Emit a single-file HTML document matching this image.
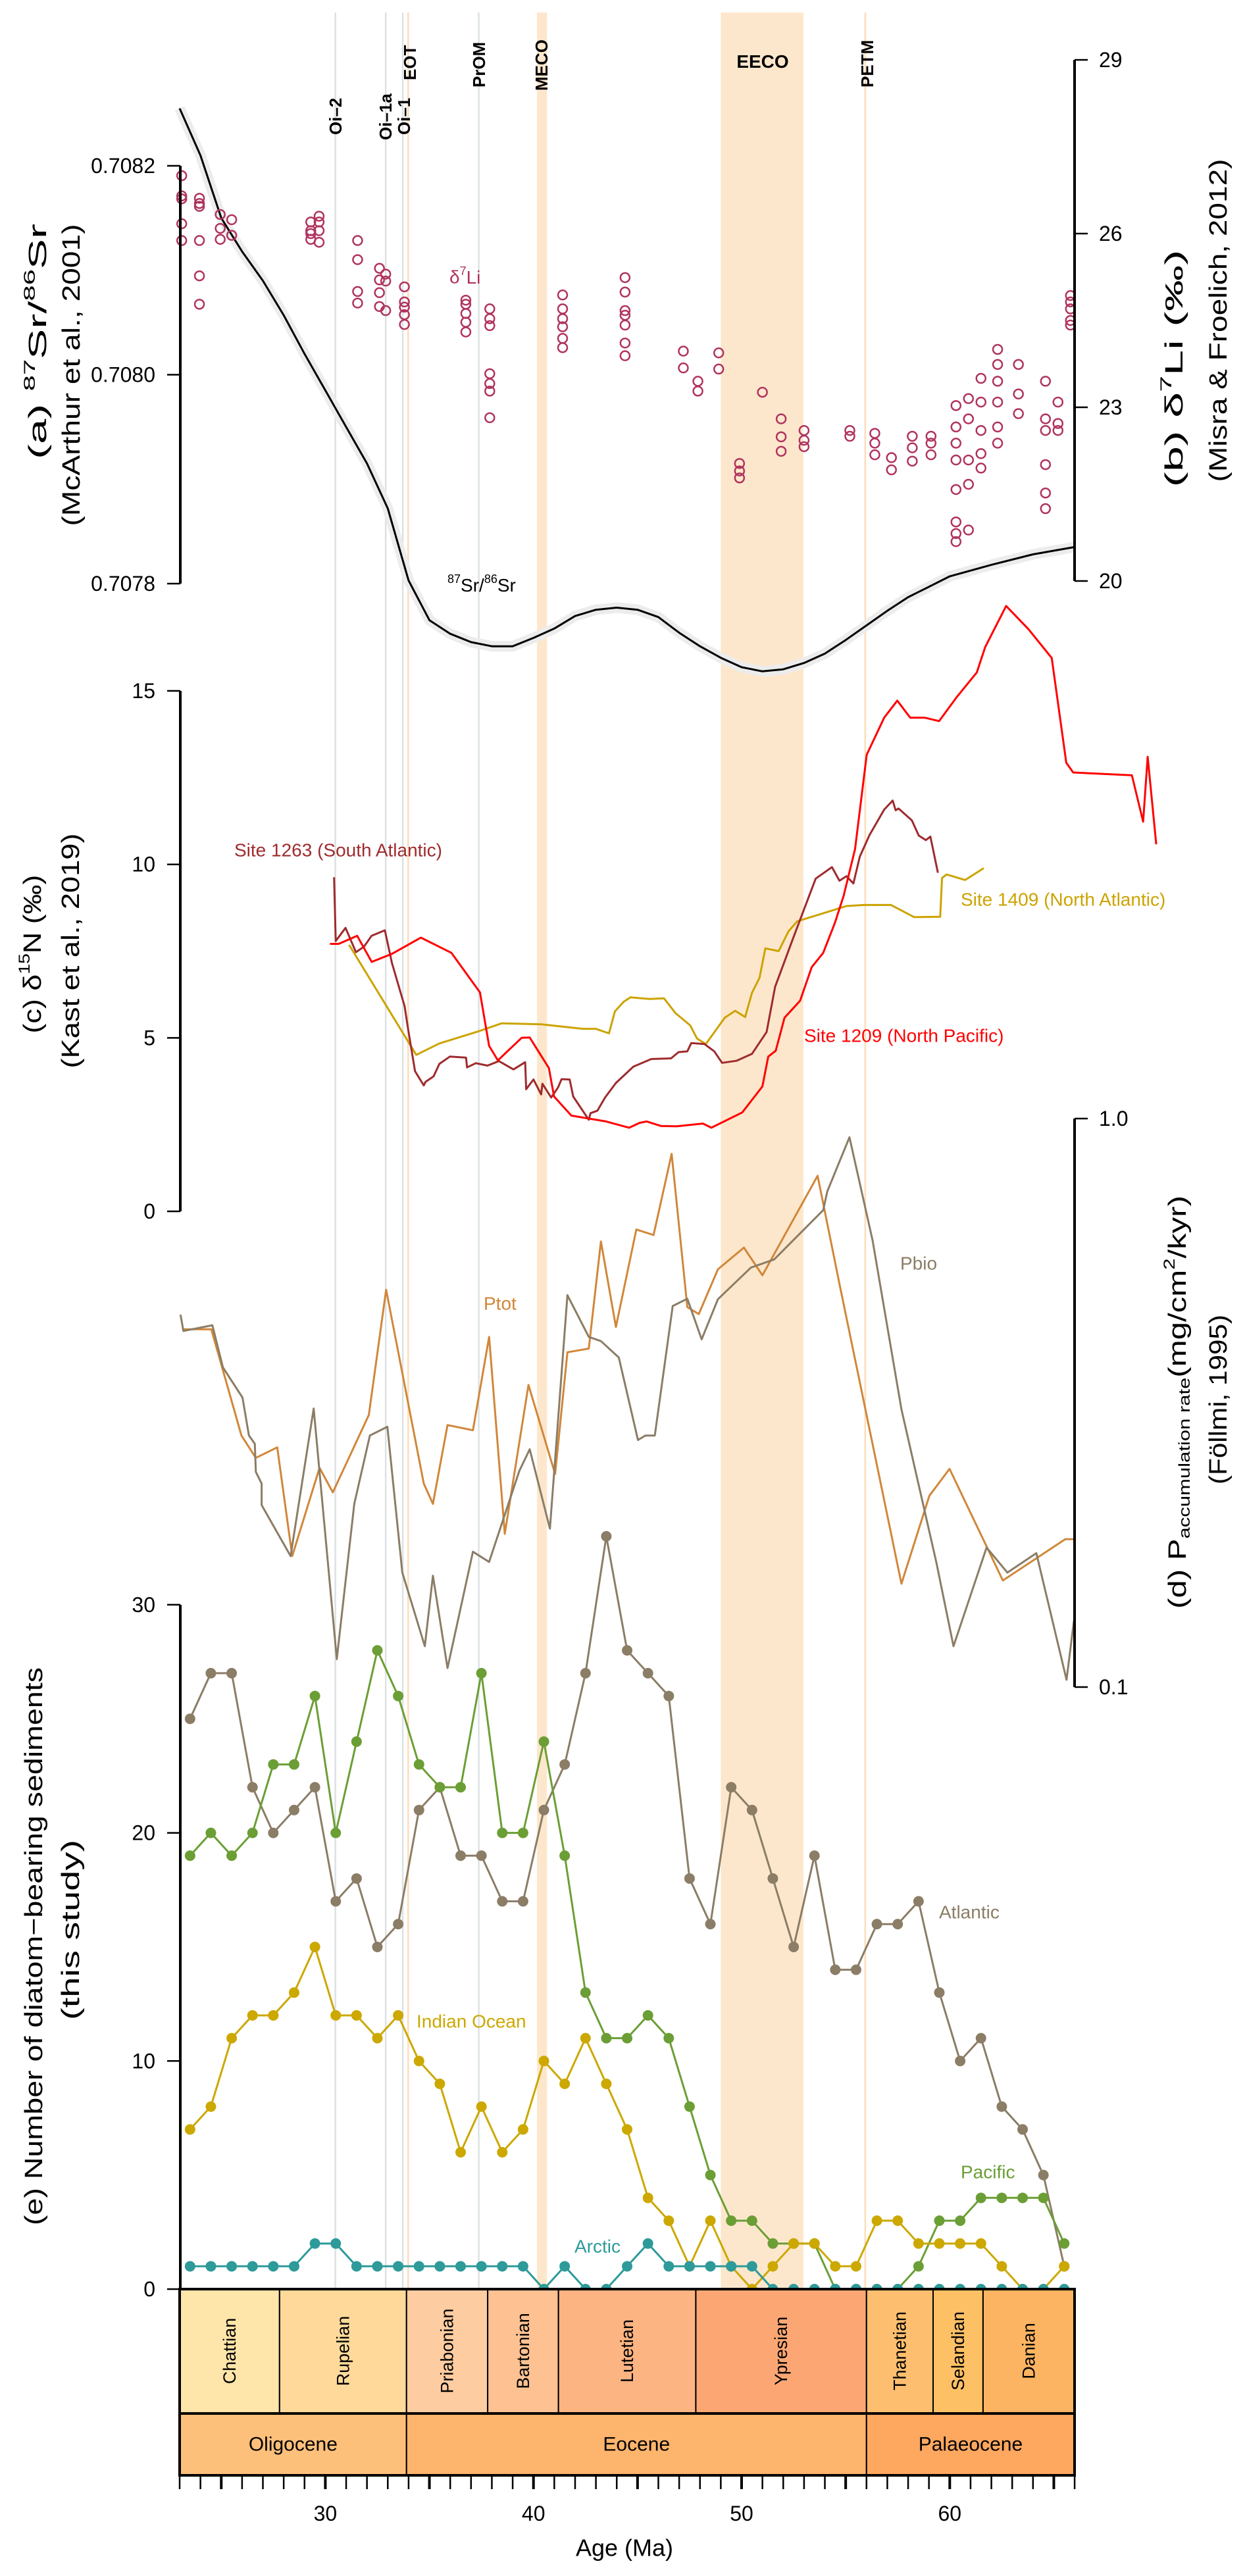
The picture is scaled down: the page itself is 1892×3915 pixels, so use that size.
<!DOCTYPE html>
<html><head><meta charset="utf-8"><style>
html,body{margin:0;padding:0;background:#fff;}
svg{display:block;font-family:"Liberation Sans",sans-serif;}
</style></head><body>
<svg id="chart" width="1892" height="3915" viewBox="0 0 1892 3915" xmlns="http://www.w3.org/2000/svg">
<g id="bands"></g>
<g id="events"></g>
<g id="data"></g>
<g id="axes"></g>
</svg>
<script>
const NS="http://www.w3.org/2000/svg";
// ---------- data ----------
const srAge=[23,24,25,26,27,28,29,30,31,32,33,34,35,36,37,38,39,40,41,42,43,44,45,46,47,48,49,50,51,52,53,54,55,56,57,58,59,60,62,64,66];
const srVal=[0.708255,0.70821,0.70815,0.708118,0.70809,0.708057,0.70802,0.707985,0.70795,0.707915,0.707872,0.707803,0.707765,0.707752,0.707744,0.70774,0.70774,0.707748,0.707757,0.707769,0.707775,0.707777,0.707775,0.707768,0.707753,0.70774,0.707729,0.70772,0.707716,0.707718,0.707724,0.707733,0.707746,0.70776,0.707774,0.707787,0.707797,0.707807,0.707818,0.707828,0.707835];
const liAge=[23.1,23.1,23.1,23.1,23.1,23.95,23.95,23.95,23.95,23.95,23.95,24.95,24.95,24.95,25.5,25.5,29.3,29.3,29.3,29.3,29.7,29.7,29.7,29.7,31.55,31.55,31.55,31.55,32.6,32.6,32.6,32.6,32.9,32.9,32.9,33.8,33.8,33.8,33.8,33.8,36.75,36.75,36.75,36.75,36.75,37.9,37.9,37.9,37.9,37.9,37.9,37.9,41.4,41.4,41.4,41.4,41.4,41.4,44.4,44.4,44.4,44.4,44.4,44.4,44.4,47.2,47.2,47.9,47.9,48.9,48.9,51.0,49.9,49.9,49.9,51.9,51.9,51.9,53.0,53.0,53.0,55.2,55.2,56.4,56.4,56.4,57.2,57.2,58.2,58.2,58.2,59.1,59.1,59.1,60.3,60.3,60.3,60.3,60.3,60.3,60.3,60.3,60.9,60.9,60.9,60.9,60.9,61.5,61.5,61.5,61.5,61.5,62.3,62.3,62.3,62.3,62.3,62.3,63.3,63.3,63.3,64.6,64.6,64.6,64.6,64.6,64.6,65.2,65.2,65.2,65.8,65.8,65.8,65.8,65.8];
const liVal=[27.0,26.65,26.6,26.17,25.88,26.61,26.52,26.47,25.88,25.27,24.78,26.33,26.09,25.9,26.24,25.97,26.2,26.05,26.0,25.9,26.3,26.2,26.05,25.85,25.88,25.55,25.0,24.8,25.4,25.2,24.98,24.74,25.3,25.18,24.67,25.08,24.82,24.73,24.6,24.43,24.85,24.78,24.62,24.47,24.3,24.7,24.53,24.41,23.58,23.41,23.28,22.82,24.94,24.7,24.53,24.39,24.19,24.03,25.24,24.99,24.67,24.59,24.42,24.11,23.89,23.97,23.68,23.45,23.28,23.94,23.66,23.26,22.03,21.9,21.78,22.8,22.49,22.24,22.6,22.43,22.32,22.6,22.5,22.55,22.38,22.18,22.13,21.92,22.5,22.3,22.07,22.5,22.38,22.18,23.03,22.66,22.38,22.09,21.58,21.02,20.82,20.68,23.15,22.8,22.09,21.67,20.88,23.5,23.09,22.6,22.2,21.95,24.0,23.74,23.45,23.09,22.66,22.38,23.74,23.23,22.89,23.45,22.8,22.6,22.01,21.52,21.25,23.09,22.72,22.6,24.93,24.82,24.7,24.5,24.42];
const n1209Age=[30.22,30.64,31.53,32.23,33.2,34.59,36.06,37.43,37.87,38.29,39.43,39.82,40.74,40.99,41.82,43.49,44.6,45.1,45.44,46.13,46.88,48.14,48.55,50.03,51.0,51.28,51.64,52.06,52.81,53.37,53.92,54.48,54.9,55.45,56.01,56.85,57.48,58.1,58.79,59.49,60.32,61.3,61.7,62.71,63.78,64.9,65.6,65.93,68.75,69.29,69.51,69.92];
const n1209Val=[7.71,7.71,7.94,7.19,7.42,7.89,7.45,6.31,4.77,4.35,5.0,5.01,4.13,3.31,2.76,2.59,2.41,2.55,2.59,2.46,2.45,2.53,2.41,2.85,3.6,4.46,4.63,5.58,6.07,7.04,7.45,8.31,9.09,10.44,13.16,14.23,14.72,14.23,14.23,14.13,14.81,15.53,16.26,17.45,16.78,15.95,12.93,12.65,12.57,11.23,13.1,10.58];
const n1263Age=[30.42,30.5,30.97,31.47,31.86,32.22,32.86,33.2,33.81,33.98,34.31,34.73,34.81,35.2,35.48,35.98,36.76,36.81,37.23,37.79,38.34,39.04,39.6,39.65,40.0,40.37,40.43,40.85,41.18,41.35,41.74,41.91,42.66,42.74,43.07,43.44,43.96,44.8,45.66,46.61,46.97,47.39,47.58,48.22,48.69,49.06,49.75,50.5,51.2,51.61,52.53,53.56,54.34,54.7,55.04,55.37,55.68,56.15,56.85,57.26,57.4,57.54,58.18,58.51,58.85,59.07,59.43];
const n1263Val=[9.63,7.79,8.17,7.47,7.63,7.94,8.1,7.16,5.91,5.24,4.04,3.63,3.73,3.89,4.25,4.46,4.43,4.15,4.27,4.2,4.33,4.09,4.3,3.52,3.8,3.37,3.68,3.28,3.57,3.81,3.8,3.31,2.64,2.83,2.9,3.28,3.7,4.17,4.39,4.41,4.59,4.61,4.85,4.82,4.61,4.28,4.34,4.54,5.17,6.47,7.96,9.59,9.92,9.53,9.66,9.45,10.23,10.85,11.58,11.84,11.56,11.61,11.27,10.83,10.7,10.8,9.76];
const n1409Age=[31.14,34.37,35.48,37.37,38.48,40.38,42.38,42.99,43.63,43.91,44.33,44.66,45.58,46.27,46.83,47.53,47.86,48.28,49.19,49.69,50.17,50.5,50.86,51.14,51.78,52.25,52.67,55.04,55.87,57.18,58.29,59.54,59.63,59.85,60.74,61.63];
const n1409Val=[7.68,4.51,4.84,5.19,5.42,5.39,5.26,5.26,5.13,5.76,6.04,6.17,6.12,6.14,5.71,5.36,4.98,4.82,5.58,5.78,5.6,6.3,6.73,7.58,7.5,8.07,8.36,8.8,8.83,8.83,8.48,8.49,9.61,9.71,9.55,9.89];
const ptotAge=[23.18,24.52,25.97,26.66,27.69,28.41,29.72,30.36,32.09,32.92,34.73,35.17,35.87,37.09,37.87,38.62,39.76,41.04,41.63,42.66,43.24,43.96,44.94,45.77,46.64,47.39,47.94,48.86,50.11,51.0,53.65,54.7,57.68,59.02,59.99,62.55,65.55,65.97];
const ptotVal=[0.426,0.426,0.277,0.253,0.264,0.170,0.243,0.220,0.301,0.500,0.228,0.210,0.289,0.283,0.413,0.186,0.340,0.237,0.388,0.394,0.608,0.430,0.638,0.624,0.867,0.466,0.453,0.543,0.593,0.530,0.793,0.512,0.152,0.217,0.242,0.154,0.182,0.182];
const pbioAge=[23.04,23.18,24.57,25.08,26.02,26.33,26.61,26.66,26.94,26.94,28.33,29.44,30.55,31.39,32.14,32.98,33.7,34.78,35.17,35.87,37.09,37.87,39.32,39.82,40.79,41.63,42.66,43.24,44.1,45.02,45.38,45.83,46.69,47.39,48.08,48.86,50.45,51.56,53.92,54.12,55.18,56.29,57.68,59.35,60.18,61.77,62.77,64.16,65.61,65.97];
const pbioVal=[0.452,0.423,0.433,0.365,0.323,0.277,0.268,0.239,0.228,0.209,0.170,0.309,0.112,0.210,0.277,0.287,0.159,0.118,0.157,0.108,0.173,0.166,0.240,0.262,0.190,0.489,0.413,0.406,0.380,0.272,0.277,0.277,0.468,0.482,0.409,0.481,0.547,0.565,0.690,0.745,0.927,0.611,0.308,0.166,0.118,0.176,0.159,0.172,0.103,0.131];
const divAge=[23.5,24.5,25.5,26.5,27.5,28.5,29.5,30.5,31.5,32.5,33.5,34.5,35.5,36.5,37.5,38.5,39.5,40.5,41.5,42.5,43.5,44.5,45.5,46.5,47.5,48.5,49.5,50.5,51.5,52.5,53.5,54.5,55.5,56.5,57.5,58.5,59.5,60.5,61.5,62.5,63.5,64.5,65.5];
const atlantic=[25,27,27,22,20,21,22,17,18,15,16,21,22,19,19,17,17,21,23,27,33,28,27,26,18,16,22,21,18,15,19,14,14,16,16,17,13,10,11,8,7,5,1];
const pacific=[19,20,19,20,23,23,26,20,24,28,26,23,22,22,27,20,20,24,19,13,11,11,12,11,8,5,3,3,2,2,2,0,0,0,0,1,3,3,4,4,4,4,2];
const indian=[7,8,11,12,12,13,15,12,12,11,12,10,9,6,8,6,7,10,9,11,9,7,4,3,1,3,1,0,1,2,2,1,1,3,3,2,2,2,2,1,0,0,1];
const arctic=[1,1,1,1,1,1,2,2,1,1,1,1,1,1,1,1,1,0,1,0,0,1,2,1,1,1,1,1,0,0,0,0,0,0,0,0,0,0,0,0,0,0,0];
const stageNames=["Chattian","Rupelian","Priabonian","Bartonian","Lutetian","Ypresian","Thanetian","Selandian","Danian"];
const stageStart=[23,27.8,33.9,37.8,41.2,47.8,56.0,59.2,61.6];
const stageEnd=[27.8,33.9,37.8,41.2,47.8,56.0,59.2,61.6,66];
const stageColors=["#FEE5A9","#FED99A","#FDCDA1","#FDC192","#FCB482","#FCA773","#FDBF6F","#FEC065","#FDB462"];
const epochNames=["Oligocene","Eocene","Palaeocene"];
const epochStart=[23,33.9,56.0];
const epochEnd=[33.9,56.0,66];
const epochColors=["#FDC07A","#FDB46C","#FDA75F"];
const eventNames=["Oi–2","Oi–1a","Oi–1","EOT","PrOM","PETM"];
const eventAges=[30.48,32.9,33.72,33.98,37.37,55.94];
const xTicks=[30,40,50,60];
const srTicks=[0.7078,0.7080,0.7082];
const liTicks=[20,23,26,29];
const nTicks=[0,5,10,15];
const pTicks=[0.1,1.0];
const divTicks=[0,10,20,30];

// ---------- scales ----------
const X=a=>273+(a-23)*31.63;
const Ysr=v=>887-(v-0.7078)*1587500;
const Yli=v=>883-(v-20)*88;
const Yn=v=>1841-v*52.73;
const Yp=v=>1700-Math.log10(v)*864;
const Ye=v=>3479-v*34.67;

function mk(tag,attrs,parent,text){const e=document.createElementNS(NS,tag);for(const k in attrs)e.setAttribute(k,attrs[k]);if(text!==undefined)e.textContent=text;parent.appendChild(e);return e;}
const bands=document.getElementById('bands'),events=document.getElementById('events'),data=document.getElementById('data'),axes=document.getElementById('axes');

// bands
let b=mk('rect',{x:X(40.17),y:19,width:X(40.65)-X(40.17),height:3479-19,fill:"#FDE7CC"},bands);


b=mk('rect',{x:X(49.0),y:19,width:X(52.97)-X(49.0),height:3479-19,fill:"#FDE7CC"},bands);


// event lines
eventNames.forEach((nm,i)=>{
  const orange=(nm==="EOT"||nm==="PETM");
  const l=mk('line',{x1:X(eventAges[i]),x2:X(eventAges[i]),y1:19,y2:3479,stroke:orange?"#FCDDB8":"#DDE1E4","stroke-width":2.5},events);
  
  
});
// event labels
const evLab=[["Oi–2",510,205],["Oi–1a",586,213],["Oi–1",614,205],["EOT",623,122],["PrOM",728,133],["MECO",823,138],["PETM",1318,133]];
evLab.forEach(e=>{
  const t=mk('text',{x:0,y:0,transform:`translate(${e[1]},${e[2]}) rotate(-90)`,"font-size":26,"font-weight":"bold","dominant-baseline":"central",fill:"#000"},axes,e[0]);
  
  
});
let t=mk('text',{x:1159,y:103,"font-size":28,"font-weight":"bold","text-anchor":"middle"},axes,"EECO");



function poly(ages,vals,Y,color,w,name){
  const p=mk('polyline',{points:ages.map((a,i)=>X(a).toFixed(1)+","+Y(vals[i]).toFixed(1)).join(" "),fill:"none",stroke:color,"stroke-width":w,"stroke-linejoin":"round"},data);
  
  
  return p;
}
// Sr
poly(srAge,srVal,Ysr,"#ECECEC",16,"sr-envelope");
poly(srAge,srVal,Ysr,"#000",3,"sr-curve");
// Li
liAge.forEach((a,i)=>{
  const c=mk('circle',{cx:X(a),cy:Yli(liVal[i]),r:7,fill:"none",stroke:"#B0335F","stroke-width":2.5},data);
  
  
});
// d15N
poly(n1409Age,n1409Val,Yn,"#CCA300",3,"site-1409-line");
poly(n1263Age,n1263Val,Yn,"#9E2B2E",3,"site-1263-line");
poly(n1209Age,n1209Val,Yn,"#FF0000",3,"site-1209-line");
// P
poly(ptotAge,ptotVal,Yp,"#D0873A",3,"ptot-line");
poly(pbioAge,pbioVal,Yp,"#8B7D66",3,"pbio-line");
// diatoms
const series=[[atlantic,"#8B7D66","atlantic"],[pacific,"#6B9E35","pacific"],[indian,"#CCA800","indian-ocean"],[arctic,"#2E9A9A","arctic"]];
series.forEach(s=>{
  poly(divAge,s[0],Ye,s[1],3,s[2]+"-line");
  divAge.forEach((a,i)=>{
    const c=mk('circle',{cx:X(a),cy:Ye(s[0][i]),r:8,fill:s[1]},data);
    
    
  });
});

// series labels
function lab(x,y,txt,color,name,size,anchor){const e=mk('text',{x:x,y:y,"font-size":size||28,fill:color,"text-anchor":anchor||"start","dominant-baseline":"central"},axes,txt);return e;}
lab(356,1292,"Site 1263 (South Atlantic)","#9E2B2E","site-1263-label");
lab(1460,1367,"Site 1409 (North Atlantic)","#CCA300","site-1409-label");
lab(1222,1574,"Site 1209 (North Pacific)","#FF0000","site-1209-label");
lab(735,1981,"Ptot","#D0873A","ptot-label");
lab(1368,1920,"Pbio","#8B7D66","pbio-label");
lab(1427,2906,"Atlantic","#8B7D66","atlantic-label");
lab(633,3072,"Indian Ocean","#CCA800","indian-ocean-label");
lab(1460,3301,"Pacific","#6B9E35","pacific-label");
lab(873,3414,"Arctic","#2E9A9A","arctic-label");
t=mk('text',{x:683,y:421,"font-size":28,fill:"#B0335F","dominant-baseline":"central"},axes);


t.innerHTML='δ<tspan font-size="18" dy="-9">7</tspan><tspan dy="9">Li</tspan>';
t=mk('text',{x:680,y:889,"font-size":28,fill:"#000","dominant-baseline":"central"},axes);


t.innerHTML='<tspan font-size="18" dy="-9">87</tspan><tspan dy="9">Sr/</tspan><tspan font-size="18" dy="-9">86</tspan><tspan dy="9">Sr</tspan>';

// axes
function vaxis(x,y1,y2,ticks,Y,fmt,side,name){
  const g=mk('g',{},axes);
  
  
  mk('line',{x1:x,x2:x,y1:y1,y2:y2,stroke:"#000","stroke-width":4},g);
  ticks.forEach(v=>{
    const y=Y(v);
    mk('line',{x1:x,x2:x+side*20,y1:y,y2:y,stroke:"#000","stroke-width":2.5},g);
    const tx=mk('text',{x:side<0?x-38:x+37,y:y,"font-size":32,"text-anchor":side<0?"end":"start","dominant-baseline":"central"},g,fmt(v));
    
    
  });
}
vaxis(274,252,887,srTicks,Ysr,v=>v.toFixed(4),-1,"sr-axis");
vaxis(1633,91,883,liTicks,Yli,v=>String(v),1,"li-axis");
vaxis(274,1050,1841,nTicks,Yn,v=>String(v),-1,"d15n-axis");
vaxis(1633,1700,2564,pTicks,Yp,v=>v.toFixed(1),1,"p-axis");
vaxis(274,2439,3479,divTicks,Ye,v=>String(v),-1,"diatom-axis");

// timescale
const ts=mk('g',{},axes);


stageNames.forEach((nm,i)=>{
  const r=mk('rect',{x:X(stageStart[i]),y:3479,width:X(stageEnd[i])-X(stageStart[i]),height:189,fill:stageColors[i],stroke:"#000","stroke-width":2},ts);
  
  
  const cx=(X(stageStart[i])+X(stageEnd[i]))/2;
  const tt=mk('text',{x:0,y:0,transform:`translate(${cx},3573) rotate(-90)`,"font-size":27,"text-anchor":"middle","dominant-baseline":"central"},ts,nm);
  
  
});
epochNames.forEach((nm,i)=>{
  const r=mk('rect',{x:X(epochStart[i]),y:3668,width:X(epochEnd[i])-X(epochStart[i]),height:94,fill:epochColors[i],stroke:"#000","stroke-width":2},ts);
  
  
  const tt=mk('text',{x:(X(epochStart[i])+X(epochEnd[i]))/2,y:3715,"font-size":30,"text-anchor":"middle","dominant-baseline":"central"},ts,nm);
  
  
});
mk('rect',{x:273,y:3479,width:1360,height:283,fill:"none",stroke:"#000","stroke-width":4},ts);
mk('line',{x1:273,x2:1633,y1:3668,y2:3668,stroke:"#000","stroke-width":4},ts);
for(let a=23;a<=66;a++){
  mk('line',{x1:X(a),x2:X(a),y1:3762,y2:3783,stroke:"#000","stroke-width":a%5===0?4:2.5},ts);
}
xTicks.forEach(v=>{
  const tx=mk('text',{x:X(v),y:3820,"font-size":32,"text-anchor":"middle","dominant-baseline":"central"},ts,String(v));
  
  
});
t=mk('text',{x:949,y:3872,"font-size":36,"text-anchor":"middle","dominant-baseline":"central"},axes,"Age (Ma)");



// axis titles (rotated)
function rtitle(x,y,html,len,name){
  const e=mk('text',{x:0,y:0,transform:`translate(${x},${y}) rotate(-90)`,"font-size":38,"text-anchor":"middle","dominant-baseline":"central",textLength:len,lengthAdjust:"spacingAndGlyphs"},axes);
  e.innerHTML=html;
  
  
}
const sup=s=>`<tspan font-size="24" dy="-13">${s}</tspan><tspan dy="13">`;
rtitle(58,519,`(a) ${sup("87")}Sr/</tspan>${sup("86")}Sr</tspan>`,358,"sr-axis-title");
rtitle(109,570,"(McArthur et al., 2001)",459,"sr-axis-source");
rtitle(50,1450,`(c) δ${sup("15")}N (‰)</tspan>`,241,"d15n-axis-title");
rtitle(108,1445,"(Kast et al., 2019)",357,"d15n-axis-source");
rtitle(52,2958,"(e) Number of diatom−bearing sediments",848,"diatom-axis-title");
rtitle(108,2933,"(this study)",274,"diatom-axis-source");
rtitle(1785,560,`(b) δ${sup("7")}Li (‰)</tspan>`,361,"li-axis-title");
rtitle(1852,487,"(Misra &amp; Froelich, 2012)",491,"li-axis-source");
rtitle(1790,2131,`(d) P<tspan font-size="24" dy="10">accumulation rate</tspan><tspan dy="-10">(mg/cm</tspan><tspan font-size="24" dy="-13">2</tspan><tspan dy="13">/kyr)</tspan>`,628,"p-axis-title");
rtitle(1852,2127,"(Föllmi, 1995)",258,"p-axis-source");
</script>
</body></html>
